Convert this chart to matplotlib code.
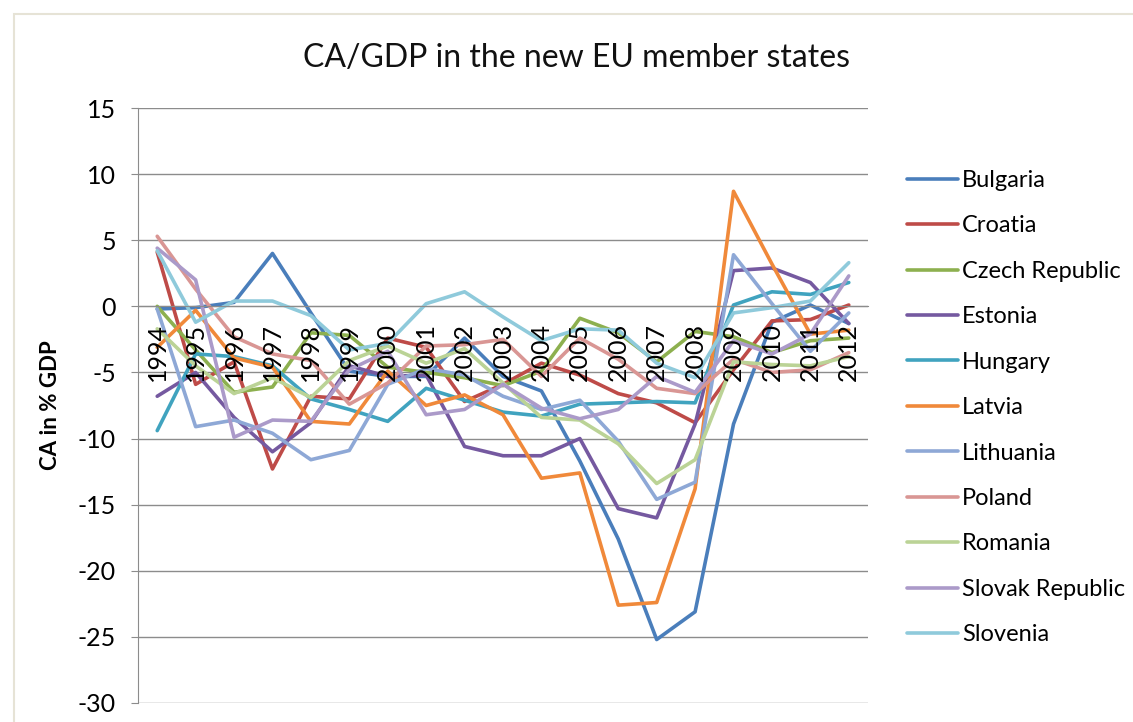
import matplotlib
matplotlib.use("Agg")
import matplotlib.pyplot as plt
import matplotlib.patches as mpatches

years = ["1994", "1995", "1996", "1997", "1998", "1999", "2000", "2001", "2002", "2003",
         "2004", "2005", "2006", "2007", "2008", "2009", "2010", "2011", "2012"]

bulgaria = [-0.2, -0.1, 0.3, 4.0, -0.5, -4.9, -5.3, -5.3, -2.4, -5.3,
            -6.4, -11.7, -17.6, -25.2, -23.1, -8.9, -1.2, 0.1, -1.3]
croatia = [4.1, -5.9, -4.2, -12.3, -6.8, -7.0, -2.4, -3.1, -7.2, -5.9,
           -4.3, -5.2, -6.6, -7.3, -8.8, -4.8, -1.1, -1.0, 0.1]
czech = [0.0, -3.3, -6.5, -6.1, -2.0, -2.2, -4.6, -5.0, -5.4, -6.0,
         -4.9, -0.9, -2.0, -4.2, -1.9, -2.3, -3.5, -2.6, -2.4]
estonia = [-6.8, -5.0, -8.4, -11.0, -8.8, -4.5, -5.3, -5.2, -10.6, -11.3,
           -11.3, -10.0, -15.3, -16.0, -8.9, 2.7, 2.9, 1.8, -1.3]
hungary = [-9.4, -3.6, -3.8, -4.5, -7.0, -7.8, -8.7, -6.2, -7.1, -8.0,
           -8.3, -7.4, -7.3, -7.2, -7.3, 0.1, 1.1, 0.9, 1.8]
latvia = [-3.1, -0.3, -3.9, -4.6, -8.7, -8.9, -4.9, -7.5, -6.7, -8.2,
          -13.0, -12.6, -22.6, -22.4, -13.8, 8.7, 3.2, -2.1, -1.8]
lithuania = [-0.2, -9.1, -8.6, -9.6, -11.6, -10.9, -5.9, -4.7, -5.2, -6.8,
             -7.8, -7.1, -10.2, -14.6, -13.3, 3.9, 0.2, -3.4, -0.5]
poland = [5.3, 1.3, -2.3, -3.6, -4.1, -7.4, -5.8, -3.0, -2.9, -2.5,
          -5.3, -2.4, -4.0, -6.2, -6.6, -4.0, -5.0, -4.8, -3.5]
romania = [-1.7, -4.5, -6.6, -5.4, -6.9, -4.1, -3.0, -4.3, -3.2, -5.8,
           -8.4, -8.6, -10.4, -13.4, -11.6, -4.2, -4.4, -4.5, -3.8]
slovak = [4.4, 2.0, -9.9, -8.6, -8.7, -4.8, -3.4, -8.2, -7.8, -5.9,
          -7.7, -8.5, -7.8, -5.3, -6.5, -2.6, -3.6, -2.1, 2.3]
slovenia = [4.2, -1.2, 0.4, 0.4, -0.7, -3.3, -2.8, 0.2, 1.1, -0.8,
            -2.6, -1.7, -1.8, -4.3, -5.4, -0.5, -0.1, 0.4, 3.3]

countries = ["Bulgaria", "Croatia", "Czech Republic", "Estonia", "Hungary", "Latvia",
             "Lithuania", "Poland", "Romania", "Slovak Republic", "Slovenia"]
series = [bulgaria, croatia, czech, estonia, hungary, latvia,
          lithuania, poland, romania, slovak, slovenia]
colors = ["#4A7EBB", "#BE4B48", "#8DB04F", "#7559A0", "#40A3BF", "#F0893A",
          "#8EA8D6", "#D99694", "#BBD396", "#AB9AC9", "#8FCADB"]

plt.rcParams["font.family"] = ["Lato", "DejaVu Sans"]
plt.rcParams["axes.unicode_minus"] = False

fig = plt.figure(figsize=(11.33, 7.22), dpi=100)
fig.patch.set_facecolor("white")

# outer chart frame (Excel chart area)
frame = mpatches.Rectangle((14 / 1133, -0.1), 1.2, 1.1 - 14 / 722,
                           transform=fig.transFigure, fill=False,
                           edgecolor="#E6E3D6", linewidth=1.5)
fig.patches.append(frame)

ax = fig.add_axes([138 / 1133, 1 - 703 / 722, 730 / 1133, 595 / 722])

x = list(range(len(years)))
for name, vals, col in zip(countries, series, colors):
    ax.plot(x, vals, color=col, linewidth=2.6, label=name,
            solid_joinstyle="round", solid_capstyle="round")

ax.set_xlim(-0.5, len(years) - 0.5)
ax.set_ylim(-30, 15)
ax.set_yticks(range(-30, 16, 5))
ax.yaxis.grid(True, color="#8C8C8C", linewidth=1.0)
ax.set_axisbelow(True)
ax.xaxis.set_zorder(3)  # year labels sit on top of the lines, like Excel

ax.spines["top"].set_visible(False)
ax.spines["right"].set_visible(False)
ax.spines["left"].set_color("#8C8C8C")
ax.spines["bottom"].set_position(("data", 0))
ax.spines["bottom"].set_color("#8C8C8C")

ax.set_xticks(x)
ax.set_xticklabels(years, rotation=90, fontsize=18, va="top", ha="center")
ax.tick_params(axis="x", length=0, pad=12)
ax.tick_params(axis="y", length=5, color="#8C8C8C", labelsize=18, pad=11)

ax.set_ylabel("CA in % GDP", fontsize=16, fontweight="bold", labelpad=12)

fig.text(577 / 1133, 1 - 58 / 722, "CA/GDP in the new EU member states",
         ha="center", va="center", fontsize=23, color="#111111")

ax.legend(loc="upper left", bbox_to_anchor=(907 / 1133, 1 - 170 / 722),
          bbox_transform=fig.transFigure, frameon=False, fontsize=17,
          handlelength=2.15, handletextpad=0.17, labelspacing=1.035,
          borderpad=0, borderaxespad=0)

fig.savefig("out.png", dpi=100, facecolor="white")
